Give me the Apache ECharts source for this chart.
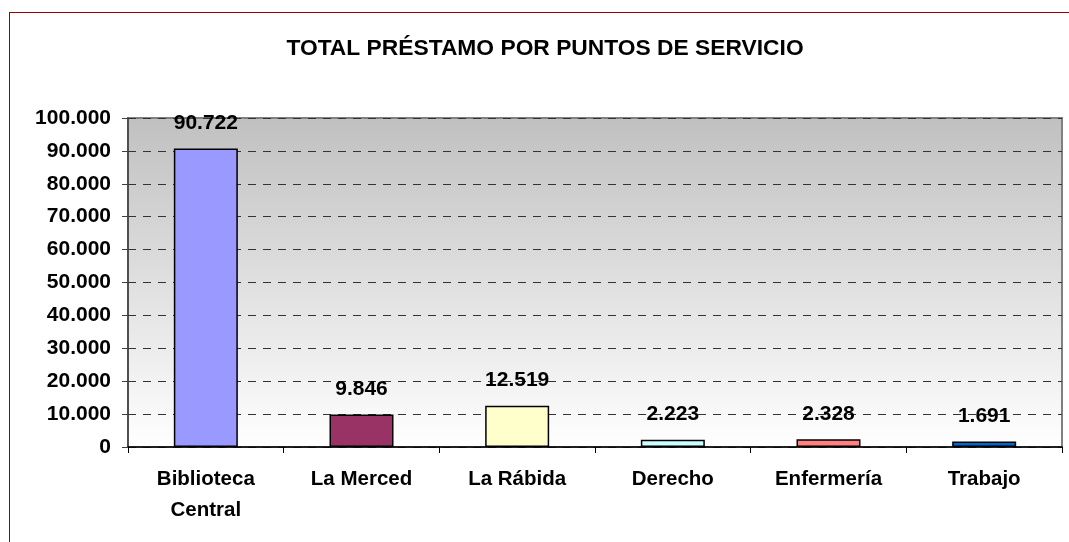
<!DOCTYPE html>
<html>
<head>
<meta charset="utf-8">
<script src="https://cdn.jsdelivr.net/npm/echarts@6/dist/echarts.min.js"></script>
<style>html,body{margin:0;padding:0;background:#fff}#c{width:1069px;height:542px}</style>
</head>
<body>
<div id="c"></div>
<script>
const categories = ['Biblioteca\nCentral', 'La Merced', 'La Rábida', 'Derecho', 'Enfermería', 'Trabajo'];
const values = [90722, 9846, 12519, 2223, 2328, 1691];
const barColors = ['#9999FF', '#993366', '#FFFFCC', '#CCFFFF', '#FF8080', '#0066CC'];
const titleText = 'TOTAL PRÉSTAMO POR PUNTOS DE SERVICIO';

function fmt(v) {
  return String(Math.round(v)).replace(/\B(?=(\d{3})+(?!\d))/g, '.');
}

const chart = echarts.init(document.getElementById('c'), null, {renderer: 'canvas'});
const font = 'Arial, "Liberation Sans", sans-serif';
chart.setOption({
  animation: false,
  backgroundColor: '#ffffff',
  title: {
    text: titleText,
    left: 540,
    textAlign: 'center',
    top: 32,
    textStyle: {fontFamily: font, fontWeight: 'bold', fontSize: 22.8, color: '#000'}
  },
  grid: {
    left: 128, right: 7, top: 118, bottom: 95,
    show: true,
    borderColor: '#808080',
    borderWidth: 2,
    backgroundColor: new echarts.graphic.LinearGradient(0, 0, 0, 1, [
      {offset: 0, color: '#C0C0C0'},
      {offset: 1, color: '#FFFFFF'}
    ])
  },
  xAxis: {
    type: 'category',
    data: categories,
    axisLine: {lineStyle: {color: '#000', width: 1.5}},
    axisTick: {show: true, length: 6, lineStyle: {color: '#000'}},
    axisLabel: {
      fontFamily: font, fontWeight: 'bold', fontSize: 20.5, color: '#000',
      margin: 17, lineHeight: 31, interval: 0
    }
  },
  yAxis: {
    type: 'value',
    min: 0, max: 100000, interval: 10000,
    axisLine: {show: true, lineStyle: {color: '#404040', width: 1.5}},
    axisTick: {show: true, length: 6, lineStyle: {color: '#404040'}},
    axisLabel: {
      fontFamily: font, fontWeight: 'bold', fontSize: 21, color: '#000',
      margin: 17, formatter: fmt
    },
    splitLine: {show: true, lineStyle: {color: '#333', type: [8, 7], width: 1}}
  },
  series: [{
    type: 'bar',
    data: values.map((v, i) => ({value: v, itemStyle: {color: barColors[i]}})),
    barWidth: 64,
    itemStyle: {borderColor: '#000', borderWidth: 1.5},
    label: {
      show: true, position: 'top', distance: 15,
      fontFamily: font, fontWeight: 'bold', fontSize: 21, color: '#000',
      formatter: p => fmt(p.value)
    }
  }],
  graphic: [
    {type: 'line', shape: {x1: 9, y1: 12.5, x2: 1069, y2: 12.5}, style: {stroke: '#990000', lineWidth: 1}, z: 10},
    {type: 'line', shape: {x1: 9.5, y1: 12, x2: 9.5, y2: 542}, style: {stroke: '#990000', lineWidth: 1}, z: 10}
  ]
});
</script>
</body>
</html>
